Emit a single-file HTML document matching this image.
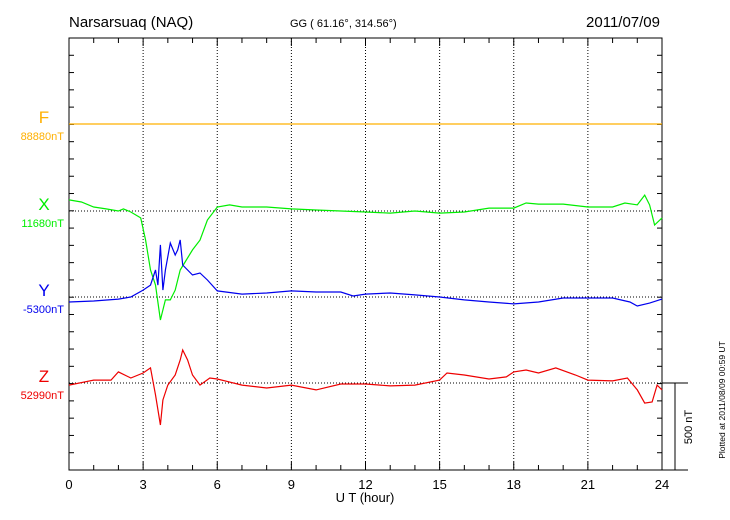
<!DOCTYPE html>
<html><head><meta charset="utf-8"><style>
body{margin:0;background:#fff;}
svg{display:block;font-family:"Liberation Sans",sans-serif;}
</style></head><body>
<svg id="chart" width="730" height="520" viewBox="0 0 730 520">
<text x="69" y="27" font-size="15">Narsarsuaq (NAQ)</text>
<text x="290" y="27" font-size="11">GG ( 61.16°, 314.56°)</text>
<text x="660" y="27" font-size="15" text-anchor="end">2011/07/09</text>
<g id="grid"></g>
<rect x="69" y="38" width="593" height="432" fill="none" stroke="#000" stroke-width="1"/>
<g id="ticks"></g>
<g id="series"></g>
<g id="labels"></g>
<line x1="662" y1="383" x2="688" y2="383" stroke="#000"/>
<line x1="662" y1="470" x2="688" y2="470" stroke="#000"/>
<line x1="675" y1="383" x2="675" y2="470" stroke="#000"/>
<text transform="translate(692,427) rotate(-90)" font-size="11" text-anchor="middle">500 nT</text>
<text transform="translate(725,400) rotate(-90)" font-size="8.5" text-anchor="middle">Plotted at 2011/08/09 00:59 UT</text>
<text x="365" y="502" font-size="13" text-anchor="middle">U T (hour)</text>
</svg>
<script>
const hourTicks=[0,3,6,9,12,15,18,21,24];
const seriesNames=["F","X","Y","Z"];
const seriesBaseLabels=["88880nT","11680nT","-5300nT","52990nT"];
const tF=[0,24];
const vF=[0,0];
const tX=[0,0.5,1,1.5,2,2.2,2.5,2.9,3.1,3.3,3.5,3.7,3.9,4.1,4.3,4.5,4.7,5,5.3,5.6,6,6.5,7,8,9,10,11,12,13,14,15,16,17,18,18.5,19,20,21,22,22.5,23,23.3,23.5,23.7,24];
const vX=[64,52,23,12,0,12,-6,-40,-168,-341,-428,-630,-514,-514,-457,-341,-295,-225,-168,-52,23,35,23,23,12,6,0,-6,-12,0,-12,-6,17,17,46,40,40,23,23,46,35,92,35,-81,-40];
const tY=[0,1,2,2.5,3,3.3,3.5,3.6,3.7,3.8,3.9,4.1,4.3,4.4,4.5,4.6,4.8,5,5.3,5.6,6,7,8,9,10,11,11.5,12,13,14,15,16,17,18,19,20,21,22,22.7,23,23.5,24];
const vY=[-29,-23,-12,0,40,69,156,69,301,40,156,312,243,272,330,185,156,127,139,98,35,17,23,35,29,29,6,17,23,12,0,-17,-29,-40,-29,-6,-6,-6,-29,-52,-35,-12];
const tZ=[0,1,1.7,2,2.5,3,3.3,3.5,3.7,3.8,4,4.3,4.5,4.6,4.8,5,5.3,5.7,6,7,8,9,10,11,12,13,14,15,15.3,16,17,17.7,18,18.5,19,19.7,20.5,21,22,22.6,23,23.3,23.6,23.8,24];
const vZ=[-12,17,17,64,29,58,87,-69,-243,-98,-12,46,133,191,133,46,-12,29,23,-12,-29,-12,-40,-6,-6,-17,-12,17,58,46,23,35,64,75,58,87,46,17,12,29,-40,-116,-110,-12,-40];

const NS="http://www.w3.org/2000/svg";
const X0=69,X1=662,Y0=38,Y1=470;
const pxPerNT=86.5/500;
const bases=[124,211,297,383];
const colors=["#ffb000","#00ee00","#0000ee","#ee0000"];
function xs(h){return X0+(X1-X0)*h/24;}
function ys(i,v){return bases[i]-v*pxPerNT;}
function mk(tag,attrs,parent){const e=document.createElementNS(NS,tag);for(const k in attrs)e.setAttribute(k,attrs[k]);parent.appendChild(e);return e;}
const grid=document.getElementById("grid"),ticks=document.getElementById("ticks"),ser=document.getElementById("series"),lab=document.getElementById("labels");
hourTicks.forEach(h=>{
  const x=xs(h);
  if(h>0&&h<24){const l=mk("line",{x1:x,y1:Y0,x2:x,y2:Y1,stroke:"#000","stroke-dasharray":"1,2"},grid);
  
  }
  const t=mk("text",{x:x,y:489,"font-size":13,"text-anchor":"middle"},ticks);
  t.textContent=h;
  
  
});
for(let h=0;h<=24;h++){const x=xs(h);const len=h%3==0?8:5;
  mk("line",{x1:x,y1:Y1,x2:x,y2:Y1-len,stroke:"#000"},ticks);
  mk("line",{x1:x,y1:Y0,x2:x,y2:Y0+len,stroke:"#000"},ticks);}
for(let k=0;k<=25;k++){const y=Y0+k*(Y1-Y0)/25;
  mk("line",{x1:X0,y1:y,x2:X0+5,y2:y,stroke:"#000"},ticks);
  mk("line",{x1:X1,y1:y,x2:X1-5,y2:y,stroke:"#000"},ticks);}
bases.forEach((b,i)=>{
  const l=mk("line",{x1:X0,y1:b,x2:X1,y2:b,stroke:"#000","stroke-dasharray":"1,2"},grid);
  
  
  const n=mk("text",{x:44,y:b-1,"font-size":17,"text-anchor":"middle",fill:colors[i]},lab);
  n.textContent=seriesNames[i];
  
  
  const v=mk("text",{x:64,y:b+16,"font-size":11,"text-anchor":"end",fill:colors[i]},lab);
  v.textContent=seriesBaseLabels[i];
  
  
});
const allT=[tF,tX,tY,tZ],allV=[vF,vX,vY,vZ];
allT.forEach((ts,i)=>{
  const d=ts.map((t,j)=>(j?"L":"M")+xs(t).toFixed(1)+","+ys(i,allV[i][j]).toFixed(1)).join(" ");
  const p=mk("path",{d:d,fill:"none",stroke:colors[i],"stroke-width":1.2},ser);
  
  
});
</script>
</body></html>
